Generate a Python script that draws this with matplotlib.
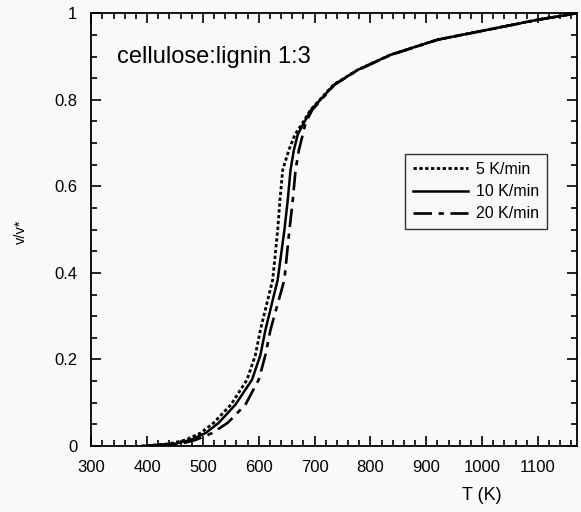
import numpy as np
import matplotlib
matplotlib.use("Agg")
import matplotlib.pyplot as plt
from matplotlib.ticker import MultipleLocator

plt.rcParams['font.family'] = ['Liberation Sans', 'DejaVu Sans']

# conversion v/v* vs temperature for three heating rates
v_all = [0, 0.005, 0.014, 0.030, 0.053, 0.095, 0.153, 0.210, 0.268, 0.384, 0.499, 0.568,
         0.638, 0.684, 0.72, 0.747, 0.777, 0.835, 0.869, 0.904, 0.939, 0.962, 0.985, 1.0]
T_5 = [390, 440, 469, 496, 519, 550, 579, 594, 603, 625, 634, 638,
       643, 654, 665, 679, 693, 734, 777, 836, 920, 1010, 1099, 1170]
T_10 = [395, 450, 478, 505, 528, 558, 588, 603, 612, 634, 646, 652,
        657, 663, 670, 681, 694, 735, 777, 836, 920, 1010, 1099, 1170]
T_20 = [400, 460, 487, 517, 544, 576, 600, 612, 621, 646, 655, 661,
        666, 672, 679, 684, 696, 736, 778, 837, 921, 1011, 1100, 1170]

labels = ['5 K/min', '10 K/min', '20 K/min']

fig = plt.figure(figsize=(5.81, 5.12), dpi=100)
fig.patch.set_facecolor('#f9f9f8')
ax = fig.add_axes([0.157, 0.129, 0.836, 0.845])
ax.set_facecolor('#f9f9f8')

ax.plot(T_5, v_all, color='k', lw=2.0, ls=(0, (1.2, 0.9)), label=labels[0])
ax.plot(T_10, v_all, color='k', lw=1.8, ls='-', label=labels[1])
ax.plot(T_20, v_all, color='k', lw=1.9, ls=(0, (7, 2.5, 2, 2.5)), label=labels[2])

ax.set_xlim(300, 1170)
ax.set_ylim(0, 1)
ax.xaxis.set_major_locator(MultipleLocator(100))
ax.xaxis.set_minor_locator(MultipleLocator(20))
ax.yaxis.set_major_locator(MultipleLocator(0.2))
ax.yaxis.set_minor_locator(MultipleLocator(0.05))
ax.set_yticks([0, 0.2, 0.4, 0.6, 0.8, 1.0])
ax.set_yticklabels(['0', '0.2', '0.4', '0.6', '0.8', '1'])
ax.tick_params(which='both', direction='in', top=True, right=True, labelsize=12, width=1.2)
ax.tick_params(which='major', length=7, pad=10)
ax.tick_params(which='minor', length=4)
for s in ax.spines.values():
    s.set_linewidth(1.3)

ax.set_xlabel('T (K)', fontsize=13)
ax.xaxis.set_label_coords(0.805, -0.095)
ax.set_ylabel('v/v*', fontsize=10.5)
ax.yaxis.set_label_coords(-0.13, 0.495)

ax.text(0.054, 0.885, 'cellulose:lignin 1:3', transform=ax.transAxes, fontsize=17)

leg = ax.legend(loc='upper left', bbox_to_anchor=(0.647, 0.675), fontsize=11.5,
                frameon=True, fancybox=False, edgecolor='k', facecolor='none',
                handlelength=3.4, borderpad=0.5, labelspacing=0.45, handletextpad=0.5,
                borderaxespad=0)
leg.get_frame().set_linewidth(1.0)

fig.savefig('out.png', dpi=100, facecolor=fig.get_facecolor())
